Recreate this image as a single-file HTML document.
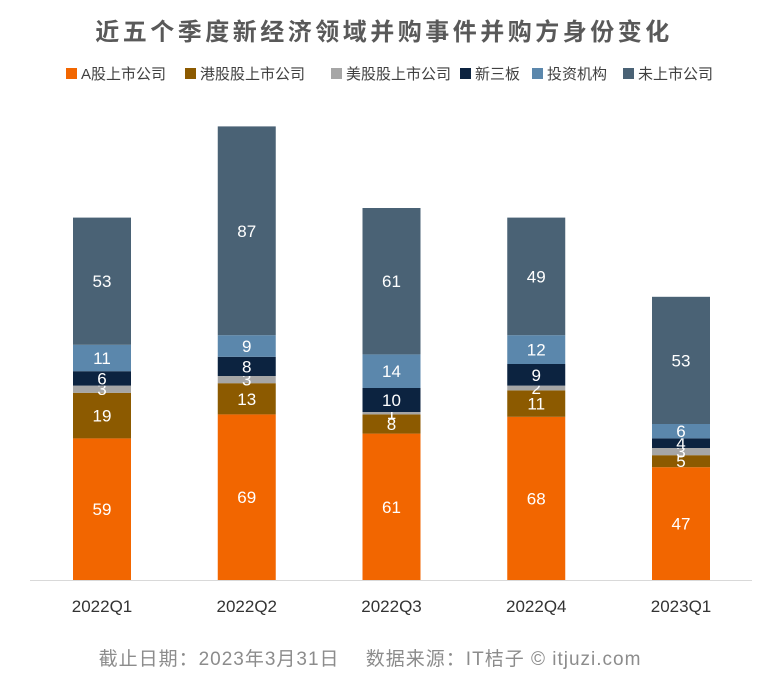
<!DOCTYPE html>
<html><head><meta charset="utf-8">
<style>
body{margin:0;background:#fff;width:772px;height:692px;overflow:hidden;font-family:"Liberation Sans","Noto Sans CJK SC",sans-serif;}
</style></head>
<body>
<svg id="chart" width="772" height="692" xmlns="http://www.w3.org/2000/svg" font-family="Liberation Sans, Noto Sans CJK SC, sans-serif">
<text x="384" y="40" text-anchor="middle" font-size="24" letter-spacing="3.5" font-weight="bold" fill="#595959">近五个季度新经济领域并购事件并购方身份变化</text>
<g id="legend"></g>
<g id="bars"></g>
<line x1="30" y1="580.5" x2="752" y2="580.5" stroke="#d9d9d9" stroke-width="1"/>
<g id="xlabels"></g>
<text x="370" y="665" text-anchor="middle" font-size="19" letter-spacing="1" fill="#8c8c8c">截止日期：2023年3月31日　 数据来源：IT桔子 © itjuzi.com</text>
</svg>
<script>
const categories=["2022Q1","2022Q2","2022Q3","2022Q4","2023Q1"];
const seriesNames=["A股上市公司","港股股上市公司","美股股上市公司","新三板","投资机构","未上市公司"];
const aShare=[59,69,61,68,47];
const hkShare=[19,13,8,11,5];
const usShare=[3,3,1,2,3];
const neeq=[6,8,10,9,4];
const investors=[11,9,14,12,6];
const unlisted=[53,87,61,49,53];
const series=[aShare,hkShare,usShare,neeq,investors,unlisted];
const colors=["#f26600","#8c5a00","#a6a6a6","#0c2340","#5b87ac","#4a6275"];
const NS="http://www.w3.org/2000/svg";
const base=580, scale=2.4, x0=102, step=144.75, bw=58;
function yScale(v){return base-v*scale;}
function xScale(i){return x0+i*step;}
function mk(tag,attrs,parent){const e=document.createElementNS(NS,tag);for(const k in attrs)e.setAttribute(k,attrs[k]);parent.appendChild(e);return e;}
const bars=document.getElementById('bars');
categories.forEach((c,i)=>{
  let cum=0;
  series.forEach((s,j)=>{
    const v=s[i];
    const y1=yScale(cum+v), y0=yScale(cum);
    const r=mk('rect',{x:xScale(i)-bw/2,y:y1,width:bw,height:y0-y1,fill:colors[j]},bars);
    
    
    const t=mk('text',{x:xScale(i),y:(y0+y1)/2+6,'text-anchor':'middle','font-size':'17',fill:'#fff'},bars);
    
    
    t.textContent=v;
    cum+=v;
  });
});
const xl=document.getElementById('xlabels');
categories.forEach((c,i)=>{
  const t=mk('text',{x:xScale(i),y:612,'text-anchor':'middle','font-size':'17',fill:'#333'},xl);
  
  
  t.textContent=c;
});
const lg=document.getElementById('legend');
const lx=[66,185,331,460,532,623];
seriesNames.forEach((n,j)=>{
  const r=mk('rect',{x:lx[j],y:68,width:11,height:11,fill:colors[j]},lg);
  
  
  const t=mk('text',{x:lx[j]+15,y:79,'font-size':'15',fill:'#404040'},lg);
  
  
  t.textContent=n;
});
</script>
</body></html>
